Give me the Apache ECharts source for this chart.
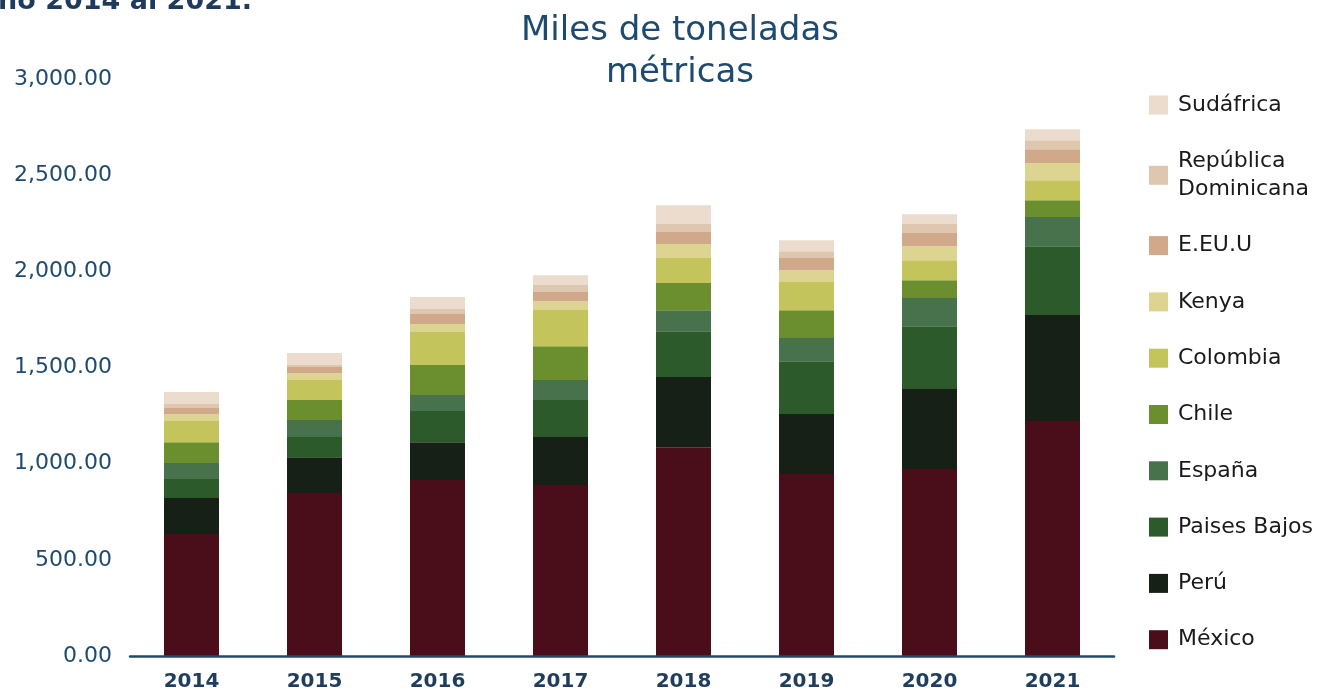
<!DOCTYPE html>
<html>
<head>
<meta charset="utf-8">
<script src="https://cdn.jsdelivr.net/npm/echarts@6/dist/echarts.min.js"></script>
<style>
  html, body { margin: 0; padding: 0; background: #fff; }
  #chart { width: 1332px; height: 694px; }
</style>
</head>
<body>
<div id="chart"></div>
<script>
// categorías (años)
const years = ["2014", "2015", "2016", "2017", "2018", "2019", "2020", "2021"];

// valores por país, miles de toneladas métricas
const mexico = [634, 847, 915, 889, 1086, 946, 972, 1222];
const peru = [187, 187, 197, 249, 364, 312, 416, 551];
const paisesBajos = [99, 104, 162, 193, 239, 275, 327, 358];
const espana = [83, 89, 83, 104, 109, 120, 146, 151];
const chile = [109, 104, 156, 176, 141, 145, 93, 88];
const colombia = [110, 104, 171, 188, 130, 146, 104, 104];
const kenya = [36, 36, 42, 46, 73, 62, 73, 89];
const eeuu = [31, 31, 52, 47, 62, 63, 68, 72];
const repDominicana = [21, 11, 26, 37, 42, 36, 47, 47];
const sudafrica = [62, 62, 62, 51, 98, 57, 51, 57];

const seriesList = [
  { name: "México", data: mexico, color: "#4a0e1a" },
  { name: "Perú", data: peru, color: "#172016" },
  { name: "Paises Bajos", data: paisesBajos, color: "#2d5a2a" },
  { name: "España", data: espana, color: "#47724c" },
  { name: "Chile", data: chile, color: "#6b8e2f" },
  { name: "Colombia", data: colombia, color: "#c3c45c" },
  { name: "Kenya", data: kenya, color: "#ddd491" },
  { name: "E.EU.U", data: eeuu, color: "#cfa98a" },
  { name: "República\nDominicana", data: repDominicana, color: "#dfc6ae" },
  { name: "Sudáfrica", data: sudafrica, color: "#ecdccd" },
];

const font = "DejaVu Sans";
const blue = "#1f4a70";

let myChart = echarts.init(document.getElementById("chart"));
myChart.setOption({
  textStyle: { fontFamily: font },
  graphic: [
    {
      type: "text",
      left: -2,
      top: -12,
      style: {
        text: "ño 2014 al 2021.",
        font: "bold 27px " + font,
        fill: "#1f3a5c",
      },
    },
    {
      type: "text",
      x: 680,
      y: 10,
      style: {
        text: "Miles de toneladas\nmétricas",
        font: "34px " + font,
        fill: blue,
        align: "center",
        lineHeight: 42,
      },
    },
  ],
  legend: {
    orient: "vertical",
    left: 1144,
    top: 86,
    itemWidth: 19,
    itemHeight: 19,
    itemGap: 28.3,
    icon: "rect",
    data: seriesList.map((s) => s.name).reverse(),
    textStyle: {
      fontFamily: font,
      fontSize: 22,
      color: "#1a1a1a",
      lineHeight: 28,
      padding: [0, 0, 0, 5],
    },
  },
  grid: {
    left: 130,
    right: 218,
    top: 79,
    bottom: 38,
  },
  xAxis: {
    type: "category",
    data: years,
    axisTick: { show: false },
    axisLine: { lineStyle: { color: blue, width: 2.5 } },
    axisLabel: {
      color: "#1f3d5c",
      fontSize: 20,
      fontWeight: "bold",
      margin: 16,
    },
    z: 10,
  },
  yAxis: {
    type: "value",
    min: 0,
    max: 3000,
    interval: 500,
    splitLine: { show: false },
    axisLine: { show: false },
    axisTick: { show: false },
    axisLabel: {
      color: blue,
      fontSize: 22,
      margin: 18,
      formatter: (v) =>
        v.toLocaleString("en-US", { minimumFractionDigits: 2, maximumFractionDigits: 2 }),
    },
  },
  series: seriesList.map((s) => ({
    name: s.name,
    type: "bar",
    stack: "total",
    barWidth: 55,
    data: s.data,
    itemStyle: { color: s.color },
  })),
});

window.addEventListener("resize", () => {
  myChart.resize();
});
</script>
</body>
</html>
